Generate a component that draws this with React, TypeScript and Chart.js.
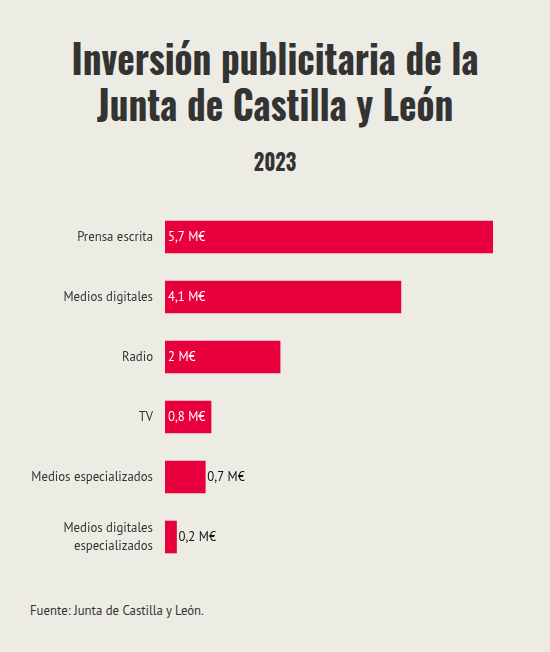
import React, { useEffect, useRef } from "react";
import { Chart, registerables } from "chart.js";

Chart.register(...registerables);

const categories: (string | string[])[] = [
  "Prensa escrita",
  "Medios digitales",
  "Radio",
  "TV",
  "Medios especializados",
  ["Medios digitales", "especializados"],
];
const values: number[] = [5.7, 4.1, 2.0, 0.8, 0.7, 0.2];
const valueLabels: string[] = ["5,7 M€", "4,1 M€", "2 M€", "0,8 M€", "0,7 M€", "0,2 M€"];

const TITLE_LINES = ["Inversión publicitaria de la", "Junta de Castilla y León"];
const SUBTITLE = "2023";
const SOURCE = "Fuente: Junta de Castilla y León.";

const BG = "#edece4";
const BAR = "#e8003d";
const TEXT = "#333333";
const LABEL_FONT = "'PT Sans', Lato, 'Noto Sans', sans-serif";
const TITLE_FONT = "Oswald, 'Liberation Sans Narrow', 'DejaVu Sans Condensed', sans-serif";

const valueLabelPlugin = {
  id: "valueLabels",
  afterDatasetsDraw(chart: any) {
    const ctx = chart.ctx;
    const meta = chart.getDatasetMeta(0);
    ctx.save();
    ctx.font = `12.8px ${LABEL_FONT}`;
    ctx.textBaseline = "middle";
    ctx.textAlign = "left";
    meta.data.forEach((bar: any, i: number) => {
      const text = valueLabels[i];
      const w = ctx.measureText(text).width;
      const barW = bar.x - bar.base;
      if (w + 6 <= barW) {
        ctx.fillStyle = "#ffffff";
        ctx.fillText(text, bar.base + 3, bar.y);
      } else {
        ctx.fillStyle = "#111111";
        ctx.fillText(text, bar.x + 2, bar.y);
      }
    });
    ctx.restore();
  },
};

export default function App() {
  const canvasRef = useRef<HTMLCanvasElement | null>(null);

  useEffect(() => {
    document.body.style.margin = "0";
    document.body.style.background = BG;
    const canvas = canvasRef.current;
    if (!canvas) return;
    const chart = new Chart(canvas, {
      type: "bar",
      data: {
        labels: categories,
        datasets: [
          {
            data: values,
            backgroundColor: BAR,
            borderWidth: 0,
            barThickness: 32,
          },
        ],
      },
      options: {
        indexAxis: "y",
        animation: false,
        responsive: false,
        maintainAspectRatio: false,
        layout: { padding: { left: 0, right: 57, top: 0, bottom: 0 } },
        plugins: {
          legend: { display: false },
          tooltip: { enabled: false },
          title: { display: false },
        },
        scales: {
          x: {
            display: false,
            min: 0,
            max: 5.7,
          },
          y: {
            grid: { display: false, drawTicks: false },
            border: { display: false },
            afterFit: (scale: any) => {
              scale.width = 165;
              scale.paddingTop = 0;
              scale.paddingBottom = 0;
            },
            ticks: {
              padding: 12,
              color: TEXT,
              font: { family: LABEL_FONT, size: 12.8, lineHeight: 1.41 },
            },
          },
        },
      },
      plugins: [valueLabelPlugin],
    });
    return () => chart.destroy();
  }, []);

  return (
    <div
      style={{
        position: "relative",
        width: 550,
        height: 652,
        background: BG,
        overflow: "hidden",
      }}
    >
      <div
        style={{
          position: "absolute",
          top: 34,
          left: 0,
          width: 550,
          textAlign: "center",
          fontFamily: TITLE_FONT,
          fontWeight: 700,
          fontSize: 40,
          lineHeight: "46px",
          color: TEXT,
        }}
      >
        {TITLE_LINES.map((l, i) => (
          <div key={i} style={{ transform: "scaleX(0.93)", whiteSpace: "nowrap" }}>
            {l}
          </div>
        ))}
      </div>
      <div
        style={{
          position: "absolute",
          top: 145,
          left: 0,
          width: 550,
          textAlign: "center",
          fontFamily: TITLE_FONT,
          fontWeight: 700,
          fontSize: 24,
          lineHeight: "30px",
          color: TEXT,
        }}
      >
        <div style={{ transform: "scaleX(0.85)" }}>{SUBTITLE}</div>
      </div>
      <canvas
        ref={canvasRef}
        width={550}
        height={360}
        style={{ position: "absolute", top: 207, left: 0, width: 550, height: 360 }}
      />
      <div
        style={{
          position: "absolute",
          top: 602,
          left: 30,
          fontFamily: LABEL_FONT,
          fontSize: 12.8,
          lineHeight: "18px",
          color: TEXT,
        }}
      >
        {SOURCE}
      </div>
    </div>
  );
}
